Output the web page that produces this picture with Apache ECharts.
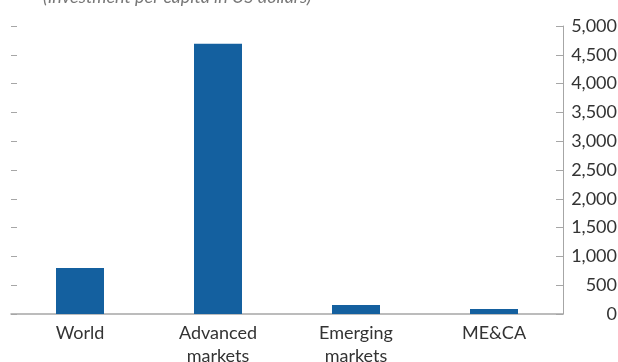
<!DOCTYPE html>
<html>
<head>
<meta charset="utf-8">
<script src="https://cdn.jsdelivr.net/npm/echarts@6/dist/echarts.min.js"></script>
<style>
  html, body { margin: 0; padding: 0; background: #fff; }
  #chart { width: 618px; height: 362px; }
</style>
</head>
<body>
<div id="chart"></div>
<script>
// regions and their value per capita
const categories = ['World', 'Advanced\nmarkets', 'Emerging\nmarkets', 'ME&CA']
const values = [800, 4690, 155, 85]
const subtitle = '(Investment per capita in US dollars)'

const chart = echarts.init(document.getElementById('chart'))
const font = 'Lato, "Open Sans", sans-serif'

const option = {
  animation: false,
  title: {
    text: subtitle,
    left: 38,
    top: -17,
    textStyle: { fontFamily: font, fontStyle: 'italic', fontWeight: 'normal', fontSize: 18, color: '#777' }
  },
  grid: { left: 11, right: 55, top: 26, bottom: 48, outerBoundsMode: 'none', containLabel: false },
  xAxis: {
    type: 'category',
    data: categories,
    axisLine: { lineStyle: { color: '#a6a6a6', width: 1.5 } },
    axisTick: { inside: true, length: 9, lineStyle: { color: '#a6a6a6', width: 1.5 } },
    axisLabel: { fontFamily: font, fontSize: 18, color: '#333', margin: 8, lineHeight: 23 }
  },
  yAxis: [
    {
      type: 'value',
      position: 'right',
      min: 0,
      max: 5000,
      interval: 500,
      axisLine: { show: true, lineStyle: { color: '#a6a6a6', width: 1 } },
      axisTick: { show: true, inside: true, length: 7, lineStyle: { color: '#a6a6a6' } },
      splitLine: { show: false },
      axisLabel: {
        fontFamily: font, fontSize: 18, color: '#333',
        align: 'right', margin: 54,
        formatter: v => v.toLocaleString('en-US')
      }
    },
    {
      type: 'value',
      position: 'left',
      min: 0,
      max: 5000,
      interval: 500,
      axisLine: { show: false },
      axisTick: { show: true, inside: true, length: 6, lineStyle: { color: '#a6a6a6' } },
      axisLabel: { show: false },
      splitLine: { show: false }
    }
  ],
  series: [
    {
      type: 'bar',
      data: values,
      barWidth: 48,
      itemStyle: { color: '#14609f' }
    }
  ]
}

chart.setOption(option)
</script>
</body>
</html>
